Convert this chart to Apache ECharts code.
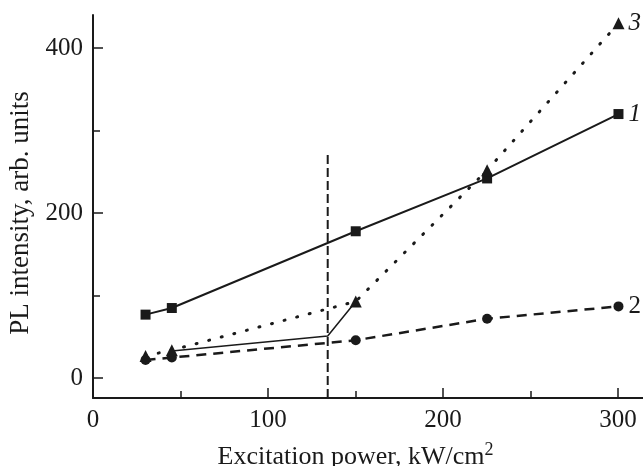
<!DOCTYPE html>
<html>
<head>
<meta charset="utf-8">
<script src="https://cdn.jsdelivr.net/npm/echarts@6/dist/echarts.min.js"></script>
<style>html,body{margin:0;padding:0;background:#fff;}#c{width:643px;height:466px;}</style>
</head>
<body>
<div id="c"></div>
<script>
// Data
const xPower = [30, 45, 150, 225, 300];
const curve1 = [77, 85, 178, 242, 320];
const curve2 = [22, 25, 46, 72, 87];
const curve3 = [27, 34, 93, 252, 430];
const kinkX = [45, 134, 150];
const kinkY = [33, 51, 93];
const thresholdX = 134;
const thresholdY = [-24, 274];
const curveNames = ['1', '2', '3'];

const FONT = '"Liberation Serif", "DejaVu Serif", serif';
const INK = '#1a1a1a';
const pts = (xs, ys) => xs.map((x, i) => [x, ys[i]]);

const chart = echarts.init(document.getElementById('c'), null, {renderer: 'canvas'});
const endLbl = (txt, italic) => ({
  show: true, formatter: txt, color: INK, fontFamily: FONT, fontSize: 25,
  fontStyle: italic ? 'italic' : 'normal', distance: 10
});
chart.setOption({
  animation: false,
  backgroundColor: '#fff',
  grid: [
    {left: 93, top: 15, width: 550, height: 383, outerBoundsMode: 'none', containLabel: false},
    {left: 93, top: 48, width: 525, height: 330, outerBoundsMode: 'none', containLabel: false}
  ],
  xAxis: [
    {gridIndex: 0, type: 'value', min: 0, max: 314,
     axisLine: {show: true, onZero: false, lineStyle: {color: INK, width: 2}},
     axisTick: {show: false}, axisLabel: {show: false}, splitLine: {show: false}},
    {gridIndex: 1, type: 'value', min: 0, max: 300, interval: 100, offset: 20,
     axisLine: {show: false, onZero: false},
     axisTick: {show: true, inside: true, length: 10, lineStyle: {color: INK, width: 1.5}},
     minorTick: {show: true, splitNumber: 2, length: 7, lineStyle: {color: INK, width: 1.5}},
     axisLabel: {color: INK, fontFamily: FONT, fontSize: 25, margin: 10},
     splitLine: {show: false},
     name: 'Excitation power, kW/cm{sup|2}', nameLocation: 'middle', nameGap: 43,
     nameTextStyle: {color: INK, fontFamily: FONT, fontSize: 26,
       rich: {sup: {fontSize: 18, fontFamily: FONT, color: INK, padding: [0, 0, 14, 0]}}}}
  ],
  yAxis: [
    {gridIndex: 0, type: 'value', min: -24, max: 440,
     axisLine: {show: true, onZero: false, lineStyle: {color: INK, width: 2}},
     axisTick: {show: false}, axisLabel: {show: false}, splitLine: {show: false}},
    {gridIndex: 1, type: 'value', min: 0, max: 400, interval: 200,
     axisLine: {show: false, onZero: false},
     axisTick: {show: true, inside: true, length: 10, lineStyle: {color: INK, width: 1.5}},
     minorTick: {show: true, splitNumber: 2, length: 7, lineStyle: {color: INK, width: 1.5}},
     axisLabel: {color: INK, fontFamily: FONT, fontSize: 25, margin: 10},
     splitLine: {show: false},
     name: 'PL intensity, arb. units', nameLocation: 'middle', nameGap: 57,
     nameTextStyle: {color: INK, fontFamily: FONT, fontSize: 27}}
  ],
  series: [
    {type: 'line', xAxisIndex: 0, yAxisIndex: 0, data: pts(xPower, curve1),
     symbol: 'rect', symbolSize: 10, itemStyle: {color: INK},
     lineStyle: {color: INK, width: 2}, endLabel: endLbl(curveNames[0], true)},
    {type: 'line', xAxisIndex: 0, yAxisIndex: 0, data: pts(xPower, curve2),
     symbol: 'circle', symbolSize: 10, itemStyle: {color: INK},
     lineStyle: {color: INK, width: 2.5, type: [10, 7]}, endLabel: endLbl(curveNames[1], false)},
    {type: 'line', xAxisIndex: 0, yAxisIndex: 0, data: pts(xPower, curve3),
     symbol: 'triangle', symbolSize: 12, itemStyle: {color: INK},
     lineStyle: {color: INK, width: 3, type: [1, 12], cap: 'round'}, endLabel: endLbl(curveNames[2], true)},
    {type: 'line', xAxisIndex: 0, yAxisIndex: 0, data: pts(kinkX, kinkY),
     symbol: 'none', lineStyle: {color: INK, width: 1.5}},
    {type: 'line', xAxisIndex: 0, yAxisIndex: 0, data: thresholdY.map(y => [thresholdX, y]),
     symbol: 'none', lineStyle: {color: INK, width: 2, type: [9, 4]}}
  ]
});
</script>
</body>
</html>
